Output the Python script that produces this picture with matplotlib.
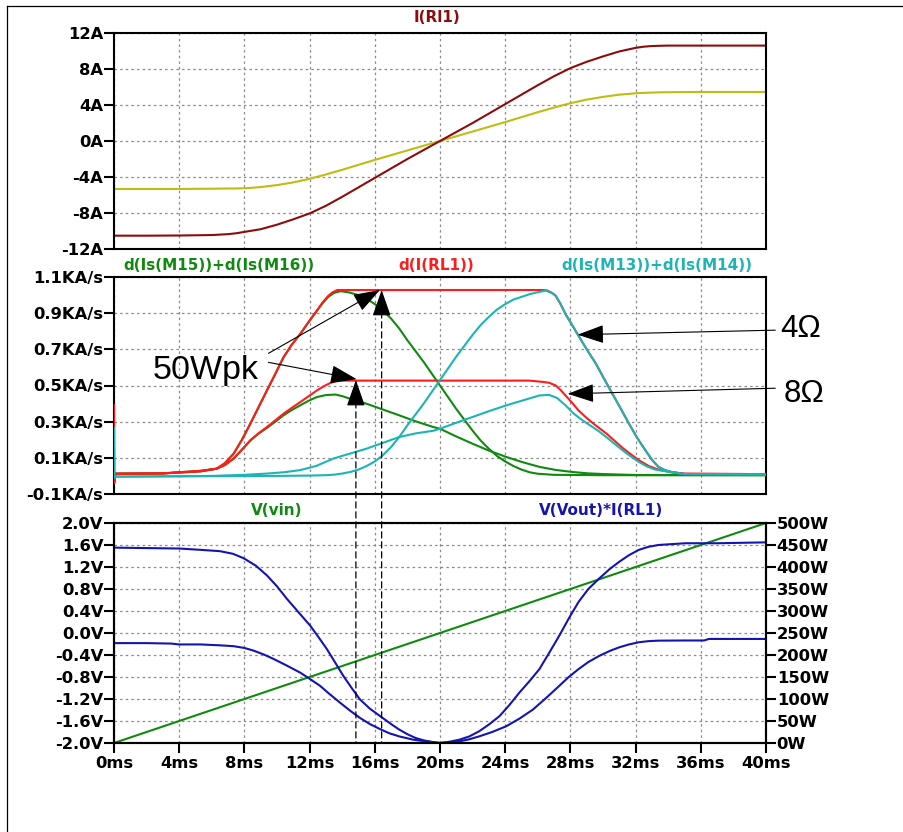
import numpy as np
import matplotlib
matplotlib.use('Agg')
from matplotlib import pyplot as plt
from matplotlib.lines import Line2D
from matplotlib.patches import ConnectionPatch

# ---- load current I(Rl1), 4 ohm and 8 ohm runs (ms, A) ----
t_cur = [0, 2, 4, 6, 7, 7.5, 8, 8.5, 9, 10, 11, 12, 13, 14, 16, 18, 20, 22, 24, 26, 27, 28, 29, 30, 31,
         32, 32.5, 33, 33.5, 34, 36, 38, 40]
i_4ohm = [-10.52, -10.52, -10.5, -10.45, -10.35, -10.25, -10.1, -9.95, -9.8, -9.3, -8.7, -8.05, -7.2,
          -6.2, -4.1, -2.0, 0, 2.0, 4.1, 6.2, 7.2, 8.1, 8.8, 9.4, 9.95, 10.35, 10.48, 10.55, 10.58, 10.6,
          10.6, 10.6, 10.6]
i_8ohm = [-5.33, -5.33, -5.33, -5.3, -5.28, -5.27, -5.25, -5.19, -5.12, -4.9, -4.6, -4.2, -3.72, -3.2,
          -2.1, -1.05, 0, 1.05, 2.1, 3.2, 3.72, 4.2, 4.6, 4.9, 5.15, 5.3, 5.35, 5.38, 5.41, 5.42, 5.45,
          5.45, 5.45]

# ---- current slopes (ms, KA/s) ----
t_red4 = [0, 0.01, 0.1, 3, 5.3, 6.3, 6.8, 7.34, 7.85, 8.36, 8.87, 9.38, 9.9, 10.4, 10.9, 11.42, 11.93,
          12.44, 12.8, 13.15, 13.4, 13.7, 20, 26.3, 26.6, 26.9, 27.1, 27.4, 27.7, 28.1, 28.5, 29.0, 29.57,
          30.05, 30.58, 31.1, 31.6, 32.1, 32.6, 33.0, 33.4, 33.8, 34.2, 35, 40]
d_red4 = [0.39, -0.04, 0.012, 0.014, 0.025, 0.04, 0.07, 0.123, 0.2, 0.288, 0.38, 0.472, 0.565, 0.656,
          0.725, 0.784, 0.85, 0.913, 0.96, 0.996, 1.015, 1.028, 1.028, 1.028, 1.025, 1.01, 0.996, 0.95,
          0.895, 0.835, 0.775, 0.7, 0.62, 0.54, 0.454, 0.37, 0.288, 0.21, 0.142, 0.09, 0.05, 0.032,
          0.022, 0.012, 0.01]
t_red8 = [0, 0.01, 0.1, 3, 5.3, 6.3, 6.8, 7.34, 7.85, 8.36, 8.87, 9.38, 9.9, 10.4, 10.9, 11.42, 11.93,
          12.44, 12.85, 13.25, 13.55, 13.87, 20, 25.5, 26.3, 26.7, 27.1, 27.4, 27.7, 28.1, 28.5, 29.0,
          29.5, 30.2, 30.7, 31.2, 31.7, 32.2, 32.8, 33.4, 34.2, 35, 40]
d_red8 = [0.39, -0.04, 0.012, 0.014, 0.028, 0.04, 0.06, 0.096, 0.145, 0.197, 0.236, 0.27, 0.308, 0.344,
          0.376, 0.408, 0.44, 0.472, 0.495, 0.513, 0.522, 0.527, 0.527, 0.527, 0.52, 0.515, 0.5, 0.475,
          0.445, 0.405, 0.362, 0.32, 0.283, 0.235, 0.195, 0.155, 0.12, 0.087, 0.055, 0.035, 0.02,
          0.012, 0.01]

t_grn4 = [0, 3, 5.3, 6.3, 6.8, 7.34, 7.85, 8.36, 8.87, 9.38, 9.9, 10.4, 10.9, 11.42, 11.93, 12.44, 12.8,
          13.15, 13.5, 13.9, 14.4, 15, 15.5, 16, 16.5, 17, 17.5, 18, 18.5, 19, 19.5, 20, 20.5, 21, 21.5,
          22, 22.5, 23, 23.5, 24, 24.5, 25, 25.5, 26, 27, 30, 40]
d_grn4 = [0.012, 0.014, 0.025, 0.04, 0.07, 0.123, 0.2, 0.288, 0.38, 0.472, 0.565, 0.656, 0.725, 0.784,
          0.85, 0.913, 0.955, 0.99, 1.012, 1.022, 1.015, 1.0, 0.98, 0.95, 0.915, 0.87, 0.815, 0.75, 0.69,
          0.63, 0.565, 0.5, 0.435, 0.37, 0.31, 0.25, 0.195, 0.15, 0.11, 0.08, 0.055, 0.035, 0.02, 0.012,
          0.006, 0.004, 0.004]
t_grn8 = [0, 3, 5.3, 6.3, 6.8, 7.34, 7.85, 8.36, 8.87, 9.38, 9.9, 10.4, 10.9, 11.42, 11.93, 12.44, 13.0,
          13.6, 14.05, 14.5, 15.5, 16.5, 17.5, 18.5, 19.6, 20.0, 21, 22, 23, 24.06, 25.1, 26.1, 27.1, 28.1,
          29.1, 30.1, 32, 40]
d_grn8 = [0.012, 0.014, 0.028, 0.04, 0.06, 0.096, 0.145, 0.195, 0.234, 0.265, 0.3, 0.335, 0.364, 0.39,
          0.415, 0.436, 0.447, 0.45, 0.44, 0.426, 0.399, 0.367, 0.335, 0.302, 0.27, 0.261, 0.218, 0.178,
          0.14, 0.105, 0.075, 0.05, 0.033, 0.022, 0.014, 0.01, 0.005, 0.004]

t_teal4 = [0, 0.01, 0.1, 10, 12, 13, 13.5, 14, 14.5, 15, 15.5, 16, 16.5, 17, 17.5, 18, 18.5, 19, 19.5,
           20, 20.5, 21, 21.5, 22, 22.5, 23, 23.5, 24, 24.5, 25, 25.5, 26, 26.5, 26.9, 27.1, 27.4, 27.7,
           28.1, 28.5, 29.0, 29.57, 30.05, 30.58, 31.1, 31.6, 32.1, 32.6, 33.0, 33.4, 33.8, 34.2, 35, 40]
d_teal4 = [0.265, -0.01, -0.004, 0.0, 0.002, 0.004, 0.007, 0.013, 0.022, 0.035, 0.055, 0.08, 0.115,
           0.16, 0.215, 0.28, 0.34, 0.40, 0.465, 0.53, 0.595, 0.66, 0.72, 0.78, 0.835, 0.88, 0.92, 0.95,
           0.975, 0.99, 1.005, 1.016, 1.025, 1.01, 0.996, 0.95, 0.895, 0.835, 0.775, 0.7, 0.62, 0.54,
           0.454, 0.37, 0.288, 0.21, 0.142, 0.09, 0.05, 0.032, 0.022, 0.01, 0.008]
t_teal8 = [0, 0.01, 0.1, 6, 8, 9.38, 10.4, 11.42, 12.4, 13.46, 14.5, 15.5, 16.5, 17.5, 18.5, 19.6, 20,
           21, 22, 23, 24.06, 25.1, 26.1, 26.7, 27.2, 27.7, 28.2, 28.7, 29.2, 29.7, 30.2, 30.7, 31.2,
           31.7, 32.2, 32.7, 33.2, 34.2, 35, 40]
d_teal8 = [0.265, -0.01, -0.004, 0.0, 0.006, 0.013, 0.02, 0.032, 0.055, 0.096, 0.124, 0.151, 0.183,
           0.215, 0.235, 0.25, 0.261, 0.294, 0.326, 0.358, 0.39, 0.418, 0.445, 0.448, 0.43, 0.39, 0.345,
           0.31, 0.28, 0.25, 0.215, 0.178, 0.142, 0.108, 0.077, 0.052, 0.035, 0.02, 0.01, 0.008]

# ---- input sweep and output power ----
t_vin = [0, 40]
v_vin = [-2.0, 2.0]
t_p4 = [0, 2, 4, 5.3, 6.5, 7.3, 7.95, 8.7, 9.38, 10, 10.6, 11.3, 12.03, 12.5, 13.05, 13.5, 14.07, 14.6,
        15.09, 15.7, 16.42, 17, 17.5, 18, 18.5, 19, 19.5, 20, 20.6, 21.2, 21.8, 22.4, 23, 23.65, 24.25,
        24.87, 25.5, 26.1, 26.7, 27.32, 27.9, 28.5, 29.1, 29.77, 30.4, 31.0, 31.6, 32.2, 32.8, 33.4, 34.2,
        35.07, 37, 40]
p_4ohm = [444, 443, 442, 439, 436, 430, 420, 403, 381, 356, 328, 298, 267, 243, 214, 187, 152.5, 124, 99,
          78, 58.6, 43, 30.5, 20, 11.4, 6, 2.5, 0, 3, 7.6, 15, 26.6, 42, 61, 86, 114.5, 141, 168, 205, 244,
          283, 320.6, 350, 374, 395, 412, 427, 439, 446, 450, 452, 454, 454, 456]
t_p8 = [0, 2, 3.5, 4, 5.3, 6.5, 7.34, 8, 8.56, 9.2, 9.79, 10.6, 11.42, 12, 12.64, 13.2, 13.87, 14.5,
        15.09, 15.7, 16.3, 16.9, 17.5, 18.3, 19.1, 20, 20.6, 21.2, 21.8, 22.4, 23.2, 24.06, 24.9, 25.7,
        26.5, 27.32, 27.9, 28.5, 29.1, 29.77, 30.4, 31.0, 31.6, 32.2, 32.8, 33.4, 35, 36.2, 36.5, 40]
p_8ohm = [227, 227, 226, 224, 224, 222, 220, 216, 210, 201, 191, 176, 160, 146, 130, 112, 91.6, 73, 57,
          43, 32, 22, 15, 8, 3.7, 0, 1.5, 3.8, 8.5, 15, 25, 38, 56, 76, 102, 130, 150, 168, 184, 198, 209,
          217.5, 224, 229, 231.5, 232.6, 233, 233, 236.5, 236.5]

# ---- ticks ----
t_ticks = list(range(0, 41, 4))
t_labels = [f'{t}ms' for t in t_ticks]
i_ticks = [12, 8, 4, 0, -4, -8, -12]
i_labels = ['12A', '8A', '4A', '0A', '-4A', '-8A', '-12A']
d_ticks = [-0.1, 0.1, 0.3, 0.5, 0.7, 0.9, 1.1]
d_labels = ['-0.1KA/s', '0.1KA/s', '0.3KA/s', '0.5KA/s', '0.7KA/s', '0.9KA/s', '1.1KA/s']
v_ticks = [-2.0, -1.6, -1.2, -0.8, -0.4, 0.0, 0.4, 0.8, 1.2, 1.6, 2.0]
v_labels = ['-2.0V', '-1.6V', '-1.2V', '-0.8V', '-0.4V', '0.0V', '0.4V', '0.8V', '1.2V', '1.6V', '2.0V']
p_ticks = list(range(0, 501, 50))
p_labels = [f'{p}W' for p in p_ticks]

DARK_RED = '#8c0c0c'
YELLOW = '#bdbd12'
RED = '#ff1c1c'
GREEN = '#0f8a0f'
TEAL = '#1cb4b4'
BLUE = '#1414b0'
GRID = '#8a8a8a'

TICK_FS = 11.8
TITLE_FS = 11

plt.rcParams['font.family'] = 'DejaVu Sans'


def style_axes(ax, yticks, ylabels, ylim, xlabels=False):
    ax.set_xlim(0, 40)
    ax.set_ylim(*ylim)
    ax.set_xticks(t_ticks)
    ax.set_yticks(yticks)
    ax.set_yticklabels(ylabels, fontweight='bold', fontsize=TICK_FS)
    ax.grid(True, color=GRID, linestyle=(0, (2, 2.5)), linewidth=0.9)
    for s in ax.spines.values():
        s.set_linewidth(1.5)
    ax.tick_params(axis='y', direction='out', length=7.2, width=1.5, pad=0.5)
    if xlabels:
        ax.set_xticklabels(t_labels, fontweight='bold', fontsize=TICK_FS)
        ax.tick_params(axis='x', direction='out', length=7.2, width=1.5, pad=2.5)
    else:
        ax.tick_params(axis='x', length=0, labelbottom=False)


fig = plt.figure(figsize=(9.04, 8.32), dpi=100)
left, width = 114 / 904, 652 / 904
ax1 = fig.add_axes([left, 1 - 249 / 832, width, 216 / 832])
ax2 = fig.add_axes([left, 1 - 494 / 832, width, 217 / 832])
ax3 = fig.add_axes([left, 1 - 743 / 832, width, 220 / 832])

# outer frame (top and left edges only)
fig.add_artist(Line2D([7 / 904, 1], [1 - 6 / 832, 1 - 6 / 832], transform=fig.transFigure, color='black', lw=0.9))
fig.add_artist(Line2D([7 / 904, 7 / 904], [0, 1 - 6 / 832], transform=fig.transFigure, color='black', lw=0.9))

# top: load current
style_axes(ax1, i_ticks, i_labels, (-12, 12))
ax1.plot(t_cur, i_8ohm, color=YELLOW, lw=1.5)
ax1.plot(t_cur, i_4ohm, color=DARK_RED, lw=1.5)
ax1.text(0.495, 1.074, 'I(Rl1)', transform=ax1.transAxes, color=DARK_RED, fontsize=TITLE_FS,
         fontweight='bold', ha='center', va='center')

# middle: current slopes (drawn over the frame so the start-up spike shows)
style_axes(ax2, d_ticks, d_labels, (-0.1, 1.1))
for t, d, c in [(t_grn4, d_grn4, GREEN), (t_grn8, d_grn8, GREEN),
                (t_red4, d_red4, RED), (t_red8, d_red8, RED),
                (t_teal4, d_teal4, TEAL), (t_teal8, d_teal8, TEAL)]:
    ax2.plot(t, d, color=c, lw=1.5, zorder=3)
ax2.text(0.015, 1.051, 'd(Is(M15))+d(Is(M16))', transform=ax2.transAxes, color=GREEN,
         fontsize=TITLE_FS, fontweight='bold', ha='left', va='center')
ax2.text(0.495, 1.051, 'd(I(RL1))', transform=ax2.transAxes, color=RED,
         fontsize=TITLE_FS, fontweight='bold', ha='center', va='center')
ax2.text(0.979, 1.051, 'd(Is(M13))+d(Is(M14))', transform=ax2.transAxes, color=TEAL,
         fontsize=TITLE_FS, fontweight='bold', ha='right', va='center')

# bottom: input voltage and output power
style_axes(ax3, v_ticks, v_labels, (-2.0, 2.0), xlabels=True)
ax3.plot(t_vin, v_vin, color=GREEN, lw=1.5)
ax3r = ax3.twinx()
ax3r.set_ylim(0, 500)
ax3r.set_yticks(p_ticks)
ax3r.set_yticklabels(p_labels, fontweight='bold', fontsize=TICK_FS)
ax3r.tick_params(axis='y', direction='out', length=7.2, width=1.5, pad=0.5)
for s in ax3r.spines.values():
    s.set_linewidth(1.5)
ax3r.plot(t_p4, p_4ohm, color=BLUE, lw=1.5)
ax3r.plot(t_p8, p_8ohm, color=BLUE, lw=1.5)
ax3.text(0.249, 1.059, 'V(vin)', transform=ax3.transAxes, color=GREEN,
         fontsize=TITLE_FS, fontweight='bold', ha='center', va='center')
ax3.text(0.747, 1.059, 'V(Vout)*I(RL1)', transform=ax3.transAxes, color=BLUE,
         fontsize=TITLE_FS, fontweight='bold', ha='center', va='center')

# annotations: 50 W peak points, load labels
head = dict(arrowstyle='-|>,head_length=1.66,head_width=0.58', mutation_scale=10,
            color='black', lw=0.8, shrinkA=0, shrinkB=0)
ax2.text(2.37, 0.535, '50Wpk', fontsize=24.5, family='Liberation Sans', ha='left', va='baseline')
ax2.annotate('', xy=(16.31, 1.028), xytext=(9.48, 0.678), arrowprops=head, annotation_clip=False)
ax2.annotate('', xy=(14.89, 0.535), xytext=(9.48, 0.628), arrowprops=head, annotation_clip=False)

for t_pk, v_pk in [(16.42, 1.028), (14.84, 0.53)]:
    ax2.annotate('', xy=(t_pk, v_pk), xytext=(t_pk, v_pk - 0.128), arrowprops=head, annotation_clip=False)
    fig.add_artist(ConnectionPatch(xyA=(t_pk, v_pk - 0.12), coordsA=ax2.transData,
                                   xyB=(t_pk, -2.0), coordsB=ax3.transData,
                                   color='black', lw=0.9, linestyle=(0, (5, 3))))

ax2.annotate('', xy=(28.44, 0.781), xytext=(40.57, 0.806), arrowprops=head, annotation_clip=False)
ax2.annotate('', xy=(27.83, 0.454), xytext=(40.57, 0.485), arrowprops=head, annotation_clip=False)
ax2.text(40.9, 0.766, '4Ω', fontsize=22.5, family='Liberation Sans', ha='left', va='baseline',
         clip_on=False)
ax2.text(41.07, 0.406, '8Ω', fontsize=22.5, family='Liberation Sans', ha='left', va='baseline',
         clip_on=False)

fig.savefig('out.png', dpi=100)
